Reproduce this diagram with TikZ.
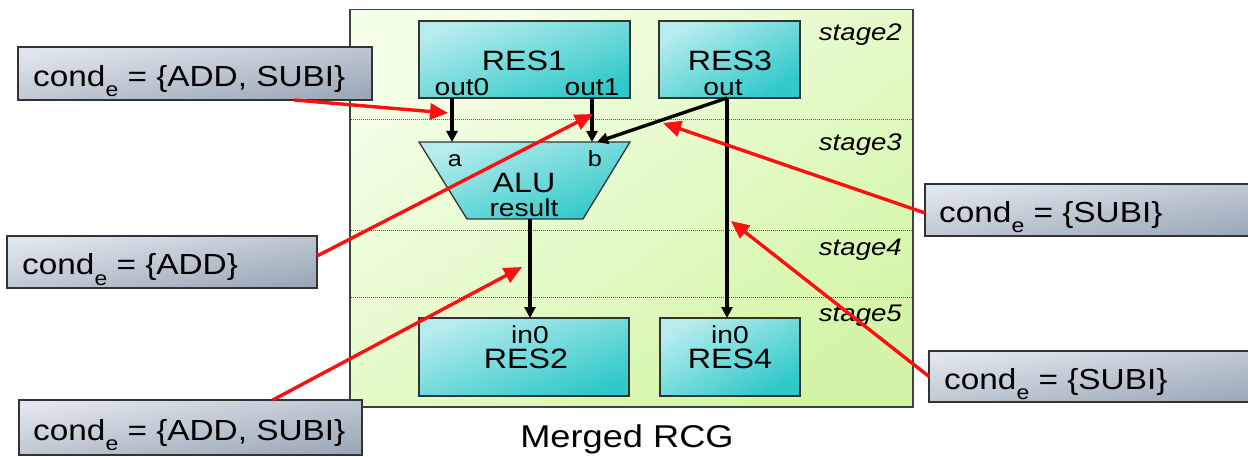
\documentclass[tikz,border=0pt]{standalone}
\usepackage{fontspec}
\setmainfont{Liberation Sans}[FakeStretch=1.15]
\usetikzlibrary{arrows.meta,calc}

\definecolor{panelL}{HTML}{F4FFE8}
\definecolor{panelD}{HTML}{D4F5A8}
\definecolor{resL}{HTML}{B6ECEE}
\definecolor{resD}{HTML}{30C8C8}
\definecolor{condL}{HTML}{E0E6EE}
\definecolor{condD}{HTML}{9CA9B8}
\definecolor{condred}{HTML}{FF1010}

\newcommand\setfs[1]{\fontsize{#1}{#1}\selectfont}
\newcommand\condsub{cond\raisebox{-10pt}{\setfs{20}e}}

\begin{document}
\begin{tikzpicture}[x=1pt,y=-1pt,
  panel/.style={draw=black!75, line width=1.8pt, top color=panelL, bottom color=panelD,
    shading angle=35, inner sep=0pt, outer sep=0pt},
  resbox/.style={draw=black!80, line width=1.3pt, top color=resL, bottom color=resD,
    shading angle=20, inner sep=0pt, outer sep=0pt},
  condbox/.style={draw=black!80, line width=1.4pt, top color=condL, bottom color=condD,
    shading angle=9, inner sep=0pt, outer sep=0pt, anchor=north west},
  stageline/.style={draw=black!65, line width=0.8pt, dash pattern=on 1pt off 1pt},
  stagelbl/.style={anchor=base east, inner sep=0pt, font=\setfs{24}\itshape},
  big/.style={anchor=base, inner sep=0pt, font=\setfs{28}},
  port/.style={anchor=base, inner sep=0pt, font=\setfs{24.5}},
  condtxt/.style={anchor=base west, inner sep=0pt, font=\setfs{29}},
  blkarrow/.style={draw=black, line width=3.4pt, -{Triangle[length=11pt,width=11pt]}},
  redarrow/.style={draw=condred, line width=3.4pt, -{Triangle[length=18pt,width=16pt]}}]

\clip (0,0) rectangle (1248,457);
\fill[white] (0,0) rectangle (1248,457);

% merged graph panel with its pipeline stages
\node[panel, anchor=north west, minimum width=563pt, minimum height=397.5pt] (panel) at (350,9.5) {};
\foreach \y in {119,230,297}
  \draw[stageline] (351,\y) -- (912,\y);
\node[stagelbl] (st2) at (902,40.7) {stage2};
\node[stagelbl] (st3) at (902,150.7) {stage3};
\node[stagelbl] (st4) at (902,255) {stage4};
\node[stagelbl] (st5) at (902,321.7) {stage5};

% resources
\node[resbox, minimum width=211pt, minimum height=77pt] (RES1) at (524.5,59.5) {};
\node[resbox, minimum width=141pt, minimum height=77pt, shading angle=29] (RES3) at (729.5,59.5) {};
\node[resbox, minimum width=210pt, minimum height=78pt] (RES2) at (524,357) {};
\node[resbox, minimum width=140pt, minimum height=78pt, shading angle=29] (RES4) at (730,357) {};

\node[big] (RES1t) at (524,70.7) {RES1};
\node[port] (out0) at (462,95.5) {out0};
\node[port] (out1) at (592,95.5) {out1};
\node[big] (RES3t) at (730,70.7) {RES3};
\node[port] (out) at (723,95.5) {out};
\node[port] (in0a) at (530,343.3) {in0};
\node[big] (RES2t) at (526,368.3) {RES2};
\node[port] (in0b) at (730,343.3) {in0};
\node[big] (RES4t) at (730,368.3) {RES4};

% ALU
\coordinate (ALUtl) at (419,142);
\coordinate (ALUtr) at (630,142);
\coordinate (ALUbr) at (583,219);
\coordinate (ALUbl) at (467,219);
\path[resbox] (ALUtl) -- (ALUtr) -- (ALUbr) -- (ALUbl) -- cycle;
\node[port, font=\setfs{22}] (pa) at (455,166.7) {a};
\node[port, font=\setfs{22}] (pb) at (595,166.7) {b};
\node[big] (ALU) at (524,192.7) {ALU};
\node[port] (result) at (524,216.7) {result};

% ports
\coordinate (o0) at ($(RES1.south west)+(33,0)$);
\coordinate (o1) at ($(RES1.south west)+(173,0)$);
\coordinate (o3) at ($(RES3.south west)+(68,0)$);
\coordinate (ia) at (o0 |- ALUtl);
\coordinate (ib) at (o1 |- ALUtl);
\coordinate (ib3) at ($(ib)+(5,0)$);
\coordinate (ores) at (530,219);
\coordinate (i2) at (ores |- RES2.north);
\coordinate (i4) at (o3 |- RES4.north);

% data connections
\draw[blkarrow] (o0) -- (ia);
\draw[blkarrow] (o1) -- (ib);
\draw[blkarrow] (o3) -- (ib3);
\draw[blkarrow] (o3) -- (i4);
\draw[blkarrow] (ores) -- (i2);

% condition annotations
\node[condbox, minimum width=354pt, minimum height=53pt] (A) at (18,47) {};
\node[condbox, minimum width=310pt, minimum height=52pt, shading angle=10] (B) at (7,236) {};
\node[condbox, minimum width=340pt, minimum height=52pt] (C) at (925,184) {};
\node[condbox, minimum width=340pt, minimum height=51pt] (D) at (929,351) {};
\node[condbox, minimum width=343pt, minimum height=55pt] (E) at (19,400) {};

\node[condtxt] (At) at (33,86.5) {\condsub{} = \{ADD, SUBI\}};
\node[condtxt] (Bt) at (22,275) {\condsub{} = \{ADD\}};
\node[condtxt] (Ct) at (939,222.5) {\condsub{} = \{SUBI\}};
\node[condtxt] (Dt) at (944,389) {\condsub{} = \{SUBI\}};
\node[condtxt] (Et) at (33,440) {\condsub{} = \{ADD, SUBI\}};

\coordinate (tA) at (448,113);
\coordinate (tB) at (593,114);
\coordinate (tC) at (663,123);
\coordinate (tD) at (731,221);
\coordinate (tE) at (522,267);

\draw[redarrow] ($(A.south west)!0.78!(A.south east)$) -- (tA);
\draw[redarrow] ([yshift=6pt]B.east) -- (tB);
\draw[redarrow] ([yshift=-3pt]C.west) -- (tC);
\draw[redarrow] (D.west) -- (tD);
\draw[redarrow] ($(E.north west)!0.74!(E.north east)$) -- (tE);

\node[anchor=base, inner sep=0pt, font=\setfs{31.5}] (title) at (627,447) {Merged RCG};
\end{tikzpicture}
\end{document}
